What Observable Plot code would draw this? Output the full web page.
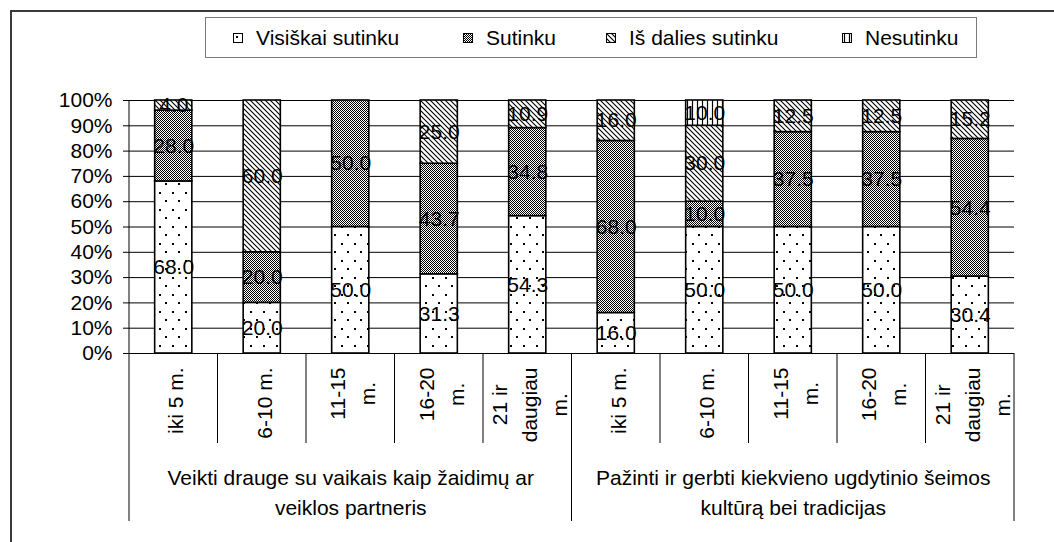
<!DOCTYPE html>
<html><head><meta charset="utf-8">
<script src="https://cdn.jsdelivr.net/npm/d3@7"></script>
<script src="https://cdn.jsdelivr.net/npm/@observablehq/plot@0.6"></script>
<style>
body{margin:0;background:#fff;font-family:"Liberation Sans",Arial,sans-serif;}
#wrap{position:relative;width:1054px;height:542px;overflow:hidden;}
#frame{position:absolute;left:10px;top:10px;width:1100px;height:600px;border-left:2px solid #3a3a3a;border-top:2px solid #3a3a3a;z-index:3;pointer-events:none;}
#legend{position:relative;height:70px;}
#lbox{position:absolute;left:205px;top:17px;width:770px;height:39px;border:1px solid #7a7a7a;background:#fff;}
.item{position:absolute;top:0;height:39px;display:flex;align-items:center;font-size:21px;color:#000;white-space:nowrap;}
.item svg{margin-right:13px;display:block;}
#chart svg{display:block;}
</style>
</head><body>
<div id="wrap">
  <div id="legend"><div id="lbox"></div></div>
  <div id="chart"></div>
  <div id="frame"></div>
</div>
<script>
// ---- data ----
const groups = ["Veikti drauge su vaikais kaip žaidimų ar\nveiklos partneris",
                "Pažinti ir gerbti kiekvieno ugdytinio šeimos\nkultūrą bei tradicijas"];
const periods = ["iki 5 m.", "6-10 m.", "11-15\nm.", "16-20\nm.", "21 ir\ndaugiau\nm."];
const seriesNames = ["Visiškai sutinku", "Sutinku", "Iš dalies sutinku", "Nesutinku"];
const visiskai  = [68.0, 20.0, 50.0, 31.3, 54.3, 16.0, 50.0, 50.0, 50.0, 30.4];
const sutinku   = [28.0, 20.0, 50.0, 43.7, 34.8, 68.0, 10.0, 37.5, 37.5, 54.4];
const isDalies  = [4.0, 60.0, 0, 25.0, 10.9, 16.0, 30.0, 12.5, 12.5, 15.2];
const nesutinku = [0, 0, 0, 0, 0, 0, 10.0, 0, 0, 0];
const yTicks = [0, 10, 20, 30, 40, 50, 60, 70, 80, 90, 100];

const patternIds = ["pDots", "pCheck", "pDiag", "pVert"];
const seriesValues = [visiskai, sutinku, isDalies, nesutinku];

// ---- tables built from the arrays ----
const keys = [];
const tickRows = [];
groups.forEach((g, gi) => periods.forEach(p => {
  const key = gi + "|" + p;
  keys.push(key);
  tickRows.push({key, label: p});
}));
const groupRows = groups.map((g, gi) => ({key: keys[gi * periods.length + 2], label: g}));
const rows = [];
keys.forEach((key, ci) => seriesNames.forEach((s, si) => {
  const v = seriesValues[si][ci];
  if (v > 0) rows.push({key, series: s, value: v});
}));

const FONT = "'Liberation Sans', Arial, sans-serif";

const plot = Plot.plot({
  width: 1054, height: 472,
  marginTop: 30, marginBottom: 189, marginLeft: 129, marginRight: 40,
  style: {fontFamily: FONT, fontSize: "21px", background: "transparent", color: "#000", overflow: "visible"},
  x: {type: "band", domain: keys, paddingInner: 0.58, paddingOuter: 0.29, round: false, axis: null},
  y: {domain: [0, 100], ticks: 10, tickFormat: d => d + "%", tickSize: 6, tickPadding: 11, label: null},
  color: {domain: seriesNames, range: patternIds.map(id => `url(#${id})`)},
  marks: [
    Plot.ruleY(yTicks, {stroke: "#000", strokeWidth: 1}),
    Plot.barY(rows, {x: "key", y: "value", fill: "series", stroke: "#000", strokeWidth: 1.6}),
    Plot.text(rows, Plot.stackY({x: "key", y: "value", z: "series", text: d => d.value.toFixed(1), fill: "#000", fontSize: 21})),
    Plot.text(tickRows, {x: "key", y: d => 0, text: "label", rotate: -90, textAnchor: "middle", lineAnchor: "middle", lineHeight: 1.43, fontSize: 21, fill: "#000"}),
    Plot.text(groupRows, {x: "key", y: d => 0, dy: 137, text: "label", lineAnchor: "middle", lineHeight: 1.43, fontSize: 21, fill: "#000"})
  ]
});

document.getElementById("chart").append(plot);

// ---- patterns ----
const svgSel = d3.select(plot);
const defs = svgSel.insert("defs", ":first-child");
function pat(id, w, h) {
  const p = defs.append("pattern").attr("id", id).attr("patternUnits", "userSpaceOnUse")
    .attr("width", w).attr("height", h);
  p.append("rect").attr("width", w).attr("height", h).attr("fill", "#fff");
  return p;
}
{
  const p = pat("pDots", 13, 17);
  p.append("rect").attr("x", 3).attr("y", 3).attr("width", 2).attr("height", 2).attr("fill", "#000");
  p.append("rect").attr("x", 9).attr("y", 11).attr("width", 2).attr("height", 2).attr("fill", "#000");
}
{
  const p = pat("pCheck", 4, 4);
  for (let r = 0; r < 4; r++) for (let c = 0; c < 4; c++) if ((r + c) % 2 === 0)
    p.append("rect").attr("x", c).attr("y", r).attr("width", 1).attr("height", 1)
      .attr("fill", "#000").attr("shape-rendering", "crispEdges");
}
{
  const p = pat("pDiag", 5, 5);
  p.append("path").attr("d", "M-1,-1L6,6M-1,4L1,6M4,-1L6,1").attr("stroke", "#000").attr("stroke-width", 1.1);
}
{
  const p = pat("pVert", 5, 5);
  p.append("line").attr("x1", 2.5).attr("x2", 2.5).attr("y1", 0).attr("y2", 5).attr("stroke", "#000").attr("stroke-width", 1.2);
}

// ---- category axis structure from the plot's scales ----
const xs = plot.scale("x"), ys = plot.scale("y");
const xb = d3.scaleBand().domain(xs.domain).range(xs.range)
  .paddingInner(xs.paddingInner ?? 0.58).paddingOuter(xs.paddingOuter ?? 0.29).align(xs.align ?? 0.5);
const yl = d3.scaleLinear().domain(ys.domain).range(ys.range);
const gap = xb.step() - xb.bandwidth();
const edge = i => i < keys.length ? xb(keys[i]) - gap / 2 : xb(keys[keys.length - 1]) + xb.bandwidth() + gap / 2;
const y0 = yl(0), yTop = yl(100);
const sep = svgSel.append("g").attr("stroke", "#000").attr("stroke-width", 1);
sep.append("line").attr("x1", edge(0)).attr("x2", edge(0)).attr("y1", yTop).attr("y2", y0 + 168);
for (let i = 1; i <= keys.length; i++) {
  const long = i % periods.length === 0;
  sep.append("line").attr("x1", edge(i)).attr("x2", edge(i)).attr("y1", y0).attr("y2", y0 + (long ? 168 : 90));
}

// rotated tick labels: top-align the block just below the axis
plot.querySelectorAll("text[transform*='rotate']").forEach(t => {
  const L = t.getBBox().width;
  const m = /translate\(\s*([-\d.e]+)[,\s]+([-\d.e]+)\s*\)/.exec(t.getAttribute("transform"));
  if (!m) return;
  t.setAttribute("transform", `translate(${+m[1]},${+m[2] + 14 + L / 2}) rotate(-90)`);
});

// ---- legend ----
const lefts = [27, 257, 400, 636];
const lbox = document.getElementById("lbox");
seriesNames.forEach((s, i) => {
  const it = document.createElement("div");
  it.className = "item";
  it.style.left = lefts[i] + "px";
  it.innerHTML = `<svg width="10" height="10"><rect x="0.5" y="0.5" width="9" height="9" fill="url(#${patternIds[i]})" stroke="#000" stroke-width="1"/></svg><span></span>`;
  it.querySelector("span").textContent = s;
  lbox.append(it);
});
</script>
</body></html>
